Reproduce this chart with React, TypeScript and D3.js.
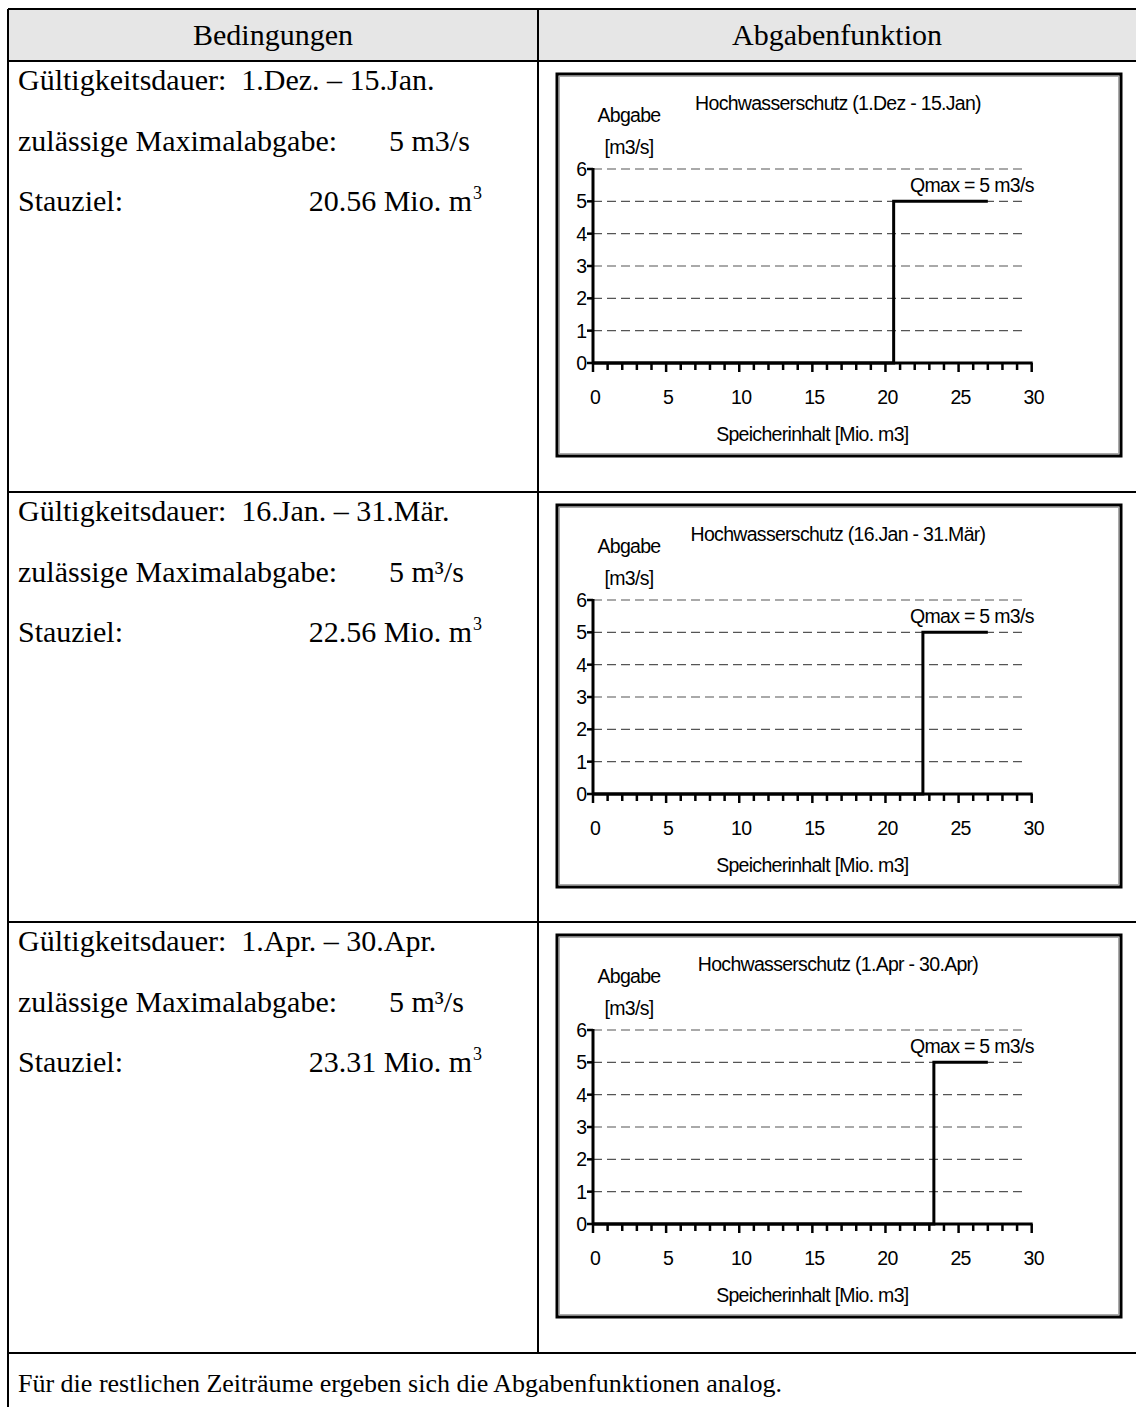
import React from "react";
import * as d3 from "d3";

const headers = ["Bedingungen", "Abgabenfunktion"];
const periods = ["1.Dez. – 15.Jan.", "16.Jan. – 31.Mär.", "1.Apr. – 30.Apr."];
const maxTexts = ["5 m3/s", "5 m³/s", "5 m³/s"];
const stauziel = [20.56, 22.56, 23.31];
const stauzielText = ["20.56", "22.56", "23.31"];
const chartTitles = [
  "Hochwasserschutz (1.Dez - 15.Jan)",
  "Hochwasserschutz (16.Jan - 31.Mär)",
  "Hochwasserschutz (1.Apr - 30.Apr)",
];
const qmax = 5;
const lineEnd = 27;
const xTicks = [0, 5, 10, 15, 20, 25, 30];
const xMinor = d3.range(0, 31, 1);
const yTicks = [0, 1, 2, 3, 4, 5, 6];
const footer = "Für die restlichen Zeiträume ergeben sich die Abgabenfunktionen analog.";

const W = 1136;
const H = 1407;
const tableLeft = 8;
const tableTop = 9;
const headerBottom = 61;
const colDiv = 538;
const rowBottoms = [492, 922, 1353];
const serif = "'Times New Roman', 'Liberation Serif', serif";
const sans = "Arial, 'Liberation Sans', sans-serif";
const cfs = 19.5;
const cls = -0.7;

const x = d3.scaleLinear().domain([0, 30]).range([0, 438.7]);
const y = d3.scaleLinear().domain([0, 6]).range([194, 0]);

function Chart({ bx, by, s, title }: { bx: number; by: number; s: number; title: string }) {
  const ox = bx + 36;
  const oy = by + 95;
  const pts: [number, number][] = [
    [0, 0],
    [s, 0],
    [s, qmax],
    [lineEnd, qmax],
  ];
  const line = d3
    .line<[number, number]>()
    .x((d) => x(d[0]))
    .y((d) => y(d[1]));
  return (
    <g>
      <rect x={bx} y={by} width={564} height={382} fill="#fff" stroke="#000" strokeWidth={3} />
      <rect x={bx + 2.5} y={by + 2.5} width={559} height={377} fill="none" stroke="#aaa" strokeWidth={1} />
      <text x={bx + 281} y={by + 36} fontFamily={sans} fontSize={cfs} letterSpacing={cls} textAnchor="middle">
        {title}
      </text>
      <text x={bx + 72} y={by + 48} fontFamily={sans} fontSize={cfs} letterSpacing={cls} textAnchor="middle">
        Abgabe
      </text>
      <text x={bx + 72} y={by + 80} fontFamily={sans} fontSize={cfs} letterSpacing={cls} textAnchor="middle">
        [m3/s]
      </text>
      <g transform={`translate(${ox},${oy})`}>
        {yTicks
          .filter((t) => t > 0)
          .map((t) => (
            <line key={"g" + t} x1={0} x2={x(30) - 5} y1={y(t)} y2={y(t)} stroke="#555" strokeWidth={1.2} strokeDasharray="9,5" />
          ))}
        {xMinor.map((t) => (
          <line key={"m" + t} x1={x(t)} x2={x(t)} y1={y(0)} y2={y(0) + (t % 5 === 0 ? 9 : 7)} stroke="#000" strokeWidth={2.5} />
        ))}
        {yTicks.map((t) => (
          <line key={"yt" + t} x1={-6} x2={0} y1={y(t)} y2={y(t)} stroke="#000" strokeWidth={2.5} />
        ))}
        <line x1={0} x2={0} y1={y(0)} y2={y(6) - 1} stroke="#000" strokeWidth={3} />
        <line x1={0} x2={x(30) + 1} y1={y(0)} y2={y(0)} stroke="#000" strokeWidth={3} />
        <path d={line(pts) || ""} fill="none" stroke="#000" strokeWidth={3} />
        {yTicks.map((t) => (
          <text key={"yl" + t} x={-6} y={y(t) + 7} fontFamily={sans} fontSize={cfs} textAnchor="end">
            {t}
          </text>
        ))}
        {xTicks.map((t) => (
          <text key={"xl" + t} x={x(t) + 2} y={y(0) + 41} fontFamily={sans} fontSize={cfs} letterSpacing={cls} textAnchor="middle">
            {t}
          </text>
        ))}
        <text x={x(30) + 2} y={y(qmax) - 9} fontFamily={sans} fontSize={cfs} letterSpacing={cls} textAnchor="end">
          {`Qmax = ${qmax} m3/s`}
        </text>
        <text x={x(15)} y={y(0) + 78} fontFamily={sans} fontSize={cfs} letterSpacing={cls} textAnchor="middle">
          Speicherinhalt [Mio. m3]
        </text>
      </g>
    </g>
  );
}

export default function App() {
  const rowTops = [headerBottom, rowBottoms[0], rowBottoms[1]];
  const fs = 30;
  return (
    <svg width={W} height={H} style={{ position: "absolute", left: 0, top: 0, display: "block", background: "#fff" }}>
      <rect x={tableLeft} y={tableTop} width={W - tableLeft} height={headerBottom - tableTop} fill="#e6e6e6" />
      <text x={(tableLeft + colDiv) / 2} y={45} fontFamily={serif} fontSize={fs} textAnchor="middle">
        {headers[0]}
      </text>
      <text x={(colDiv + W) / 2} y={45} fontFamily={serif} fontSize={fs} textAnchor="middle">
        {headers[1]}
      </text>
      {rowTops.map((rt, i) => (
        <g key={i}>
          <text x={18} y={rt + 29} fontFamily={serif} fontSize={fs} xmlSpace="preserve">
            {`Gültigkeitsdauer:  ${periods[i]}`}
          </text>
          <text x={18} y={rt + 90} fontFamily={serif} fontSize={fs}>
            zulässige Maximalabgabe:
          </text>
          <text x={389} y={rt + 90} fontFamily={serif} fontSize={fs}>
            {maxTexts[i]}
          </text>
          <text x={18} y={rt + 150} fontFamily={serif} fontSize={fs}>
            Stauziel:
          </text>
          <text x={472} y={rt + 150} fontFamily={serif} fontSize={fs} textAnchor="end">
            {`${stauzielText[i]} Mio. m`}
          </text>
          <text x={473} y={rt + 138} fontFamily={serif} fontSize={18}>
            3
          </text>
          <Chart bx={557} by={rt + 13} s={stauziel[i]} title={chartTitles[i]} />
        </g>
      ))}
      <text x={18} y={1392} fontFamily={serif} fontSize={26}>
        {footer}
      </text>
      <line x1={tableLeft} x2={W} y1={tableTop} y2={tableTop} stroke="#000" strokeWidth={2} />
      <line x1={tableLeft} x2={W} y1={headerBottom} y2={headerBottom} stroke="#000" strokeWidth={2} />
      {rowBottoms.map((rb) => (
        <line key={rb} x1={tableLeft} x2={W} y1={rb} y2={rb} stroke="#000" strokeWidth={2} />
      ))}
      <line x1={tableLeft} x2={tableLeft} y1={tableTop} y2={H} stroke="#000" strokeWidth={2} />
      <line x1={colDiv} x2={colDiv} y1={tableTop} y2={rowBottoms[2]} stroke="#000" strokeWidth={2} />
    </svg>
  );
}
